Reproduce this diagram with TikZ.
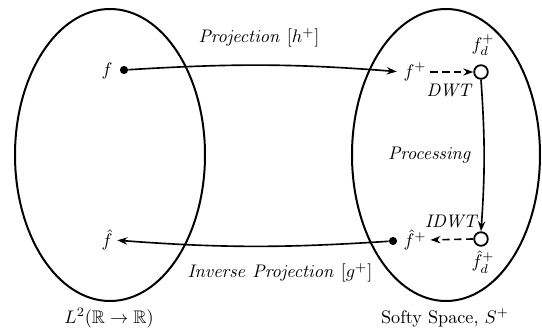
\documentclass[tikz,border=0pt]{standalone}
\usepackage{amsmath,amssymb}
\usetikzlibrary{arrows.meta}
\begin{document}
\begin{tikzpicture}[x=0.55pt,y=-0.55pt,
  space/.style={line width=1.1pt},
  dot/.style={circle,fill,inner sep=0pt,minimum size=4.5pt},
  ring/.style={circle,draw,line width=1pt,inner sep=0pt,minimum size=7.5pt},
  conn/.style={line width=0.9pt,-{Stealth[length=5.5pt,width=4pt]}},
  dconn/.style={line width=0.9pt,dash pattern=on 4pt off 2.5pt,-{Stealth[length=5.5pt,width=4pt]}},
  txt/.style={inner sep=0.5pt}]
\useasboundingbox (0,0) rectangle (542,336);
\draw[space] (110,155) ellipse [x radius=95, y radius=146];
\draw[space] (446,155) ellipse [x radius=94, y radius=146];
% left space
\node[dot] (f) at (124,70) {};
\node[txt] (fl) at (107,71) {$f$};
\node[txt] (fh) at (107,240) {$\hat{f}$};
% right space
\node[txt] (fp) at (415,72) {$f^{+}$};
\node[ring] (c1) at (481,72) {};
\node[txt] (fd1) at (483,45) {$f_d^{+}$};
\node[ring] (c2) at (481,239) {};
\node[txt] (fd2) at (483,262) {$\hat{f}_d^{+}$};
\node[txt] (fhp) at (415,240) {$\hat{f}^{+}$};
\node[dot] (d2) at (393,241) {};
% connectors
\draw[conn,shorten >=3pt] (f) to[bend left=4] (fp.west);
\draw[dconn,shorten <=1.5pt] (fp.east) -- (c1.west);
\draw[conn] (c1.south) to[bend left=4] (c2.north);
\draw[dconn,shorten >=1.5pt] (c2.west) -- (fhp.east);
\draw[conn,shorten >=2pt] (d2) to[bend left=4] (fh.east);
% labels
\node[txt] (lp) at (259,38) {$\mathit{Projection}\ [h^{+}]$};
\node[txt] (ldwt) at (450,90) {$\mathit{DWT}$};
\node[txt] (lproc) at (430,155) {$\mathit{Processing}$};
\node[txt] (lidwt) at (452,221) {$\mathit{IDWT}$};
\node[txt] (linv) at (280,273) {$\mathit{Inverse\ Projection}\ [g^{+}]$};
\node[txt] (l2) at (109,318) {$L^2(\mathbb{R}\rightarrow\mathbb{R})$};
\node[txt] (soft) at (445,318) {Softy Space, $S^{+}$};
\end{tikzpicture}
\end{document}
